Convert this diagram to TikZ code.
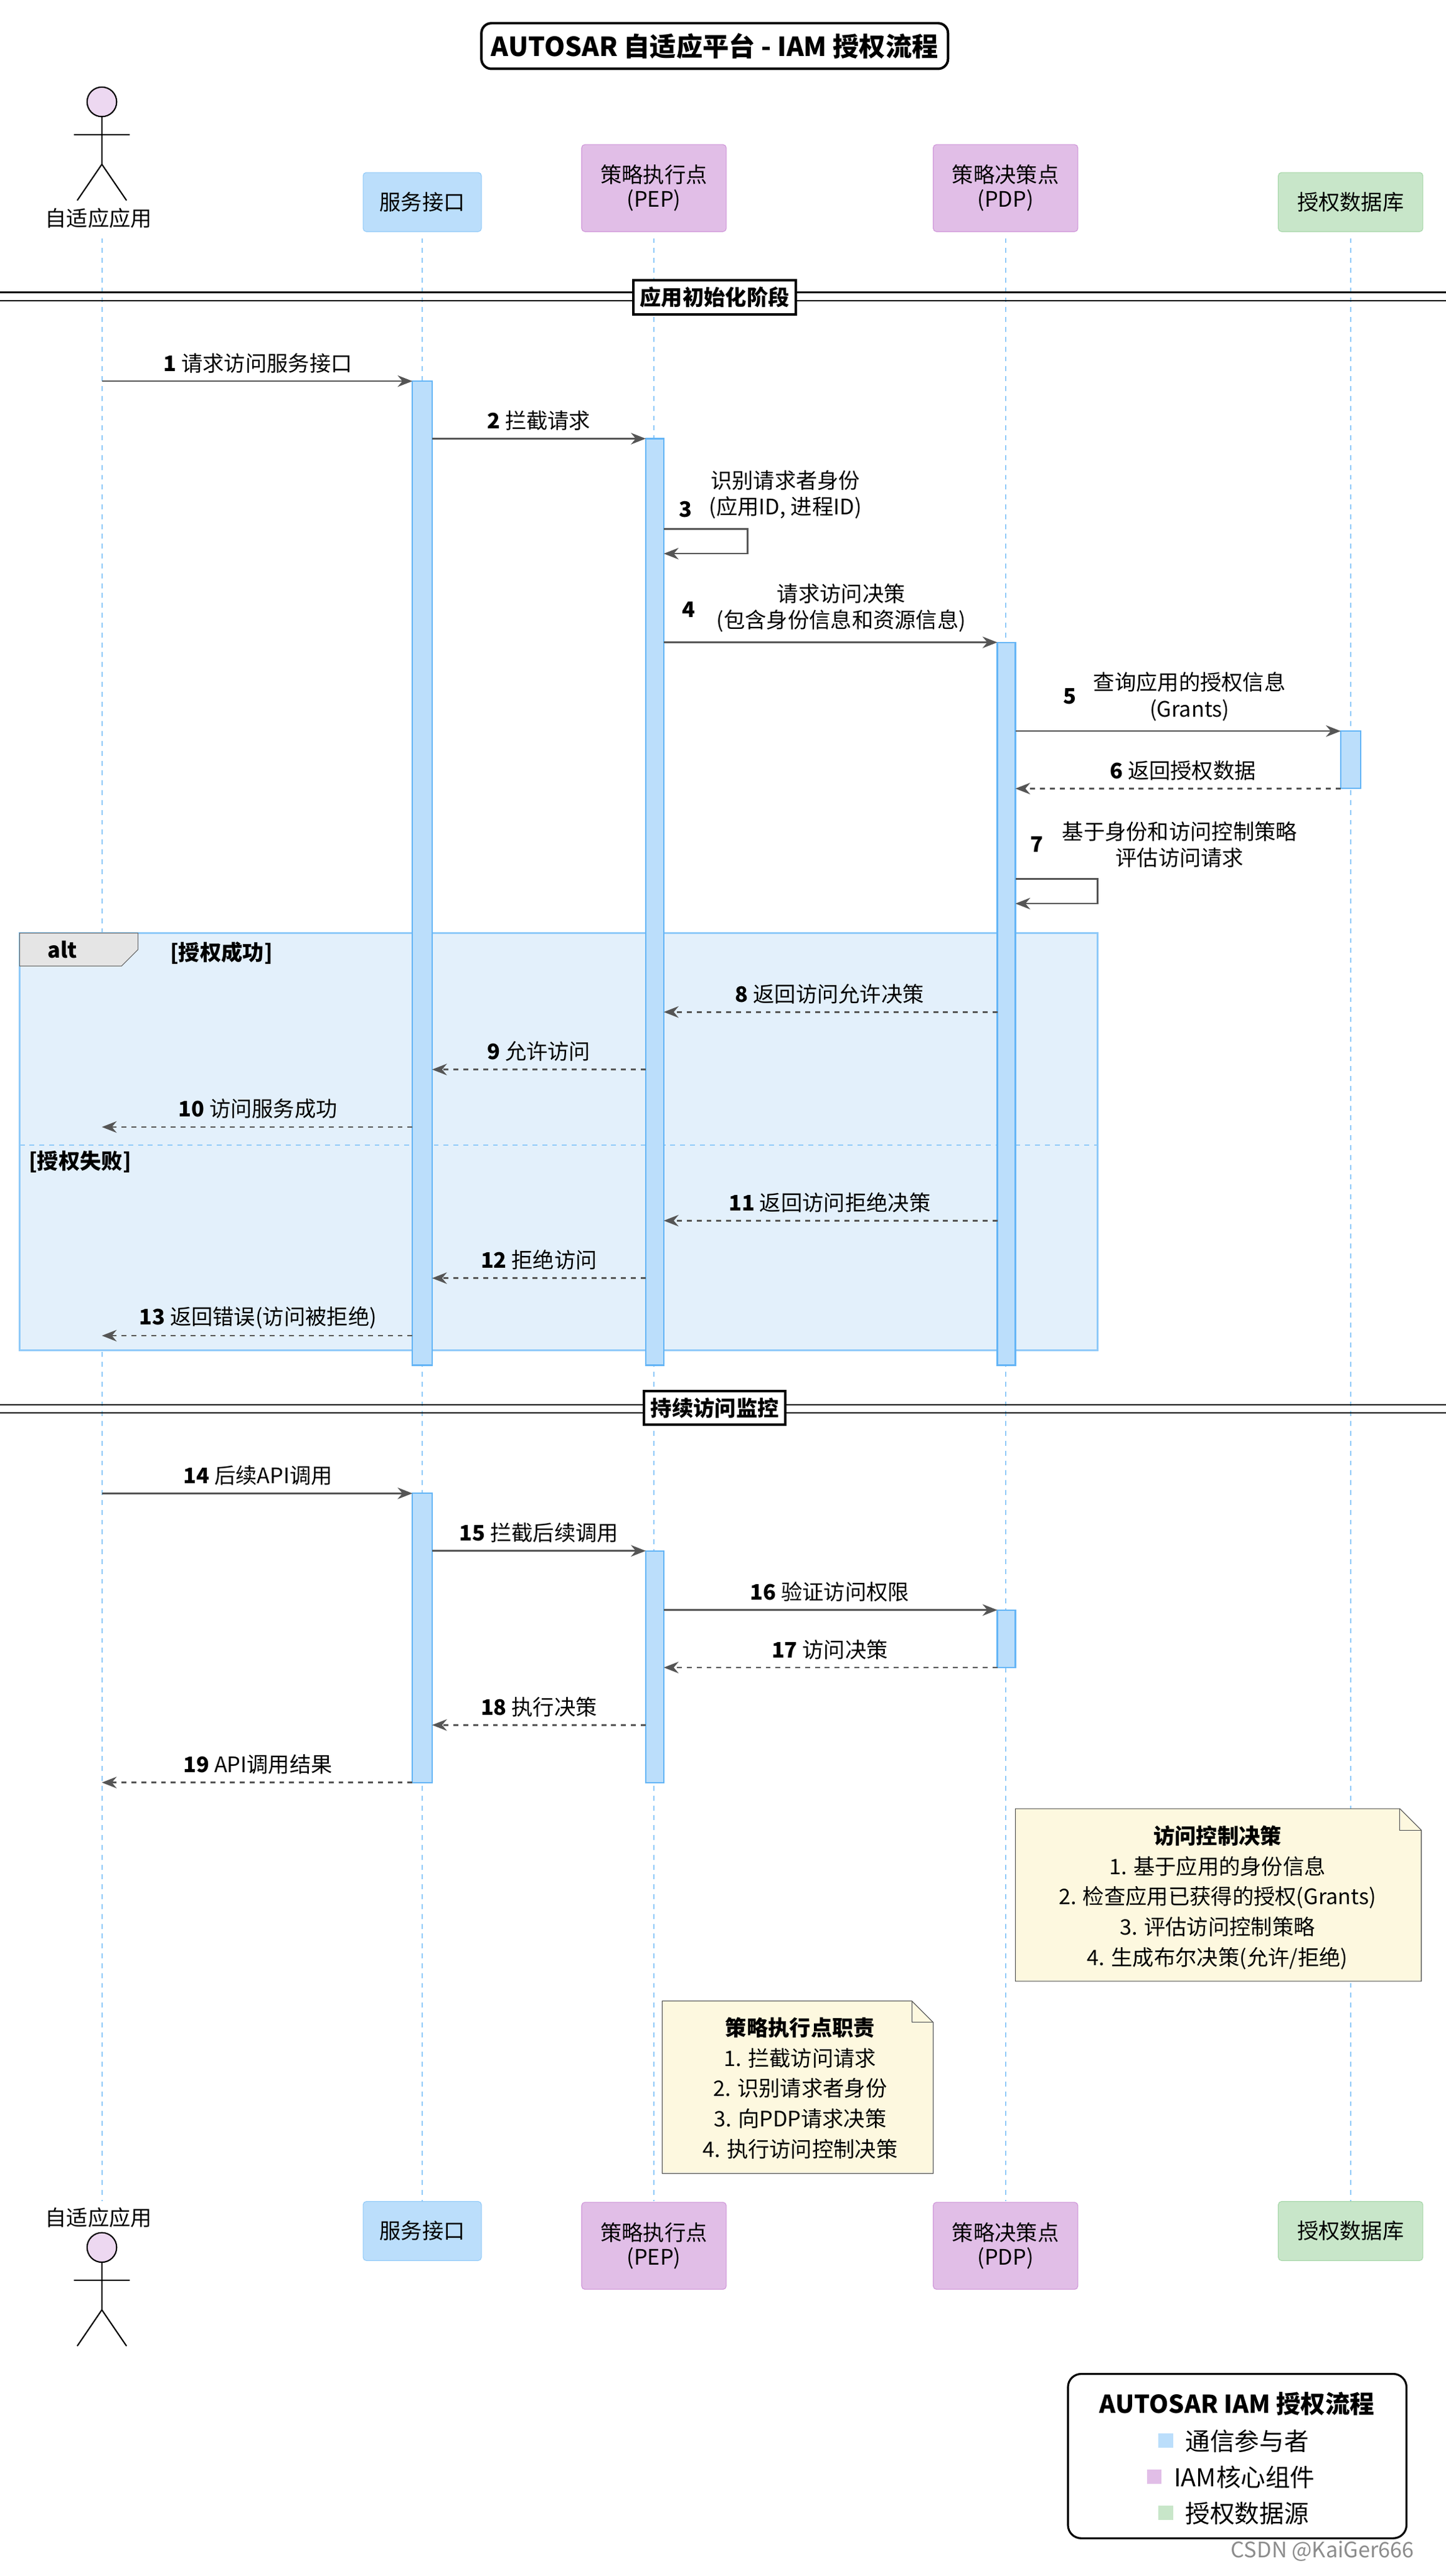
\documentclass[tikz,border=0pt]{standalone}
\usepackage{fontspec}
\setmainfont{Noto Sans CJK SC}
\usetikzlibrary{arrows.meta}
\definecolor{pb}{HTML}{BBDEFB}\definecolor{pbd}{HTML}{90CAF9}
\definecolor{pp}{HTML}{E1BEE7}\definecolor{ppd}{HTML}{CE93D8}
\definecolor{pg}{HTML}{C8E6C9}\definecolor{pgd}{HTML}{A5D6A7}
\definecolor{act}{HTML}{64B5F6}\definecolor{ar}{HTML}{555555}
\definecolor{altf}{HTML}{E3F0FB}\definecolor{notef}{HTML}{FDF8DF}
\tikzset{
 part/.style={draw=#1d,fill=#1,rounded corners=2pt,align=center,font=\fontsize{13}{15}\selectfont,inner sep=4pt},
 life/.style={draw=pbd,dashed,line width=0.8pt},
 actbar/.style={draw=act,fill=pb,line width=0.8pt},
 msg/.style={draw=ar,line width=1pt,-{Stealth[length=9pt,width=7pt]}},
 rmsg/.style={msg,dashed},
 lbl/.style={font=\fontsize{13}{16}\selectfont,align=center,inner sep=1pt},
 sect/.style={draw,line width=1.5pt,fill=white,font=\bfseries\fontsize{13}{15}\selectfont,inner sep=4pt},
 note/.style={font=\fontsize{13}{18.5}\selectfont,align=center}
}
\begin{document}
\begin{tikzpicture}[x=1pt,y=-1pt]
\useasboundingbox (0,0) rectangle (880,1568);
\fill[white] (0,0) rectangle (880,1568);
% lifelines
\foreach \x in {62,257,398,612,822} \draw[life] (\x,145) -- (\x,1340);
% title
\node[draw,line width=1.5pt,rounded corners=6pt,font=\bfseries\fontsize{16}{18}\selectfont,inner sep=6pt] (title) at (435,28) {AUTOSAR 自适应平台 - IAM 授权流程};
% participants top
\node[part=pb,minimum width=72pt,minimum height=36pt] (s1) at (257,123) {服务接口};
\node[part=pp,minimum width=88pt,minimum height=53pt] (p1) at (398,114.5) {策略执行点\\(PEP)};
\node[part=pp,minimum width=88pt,minimum height=53pt] (d1) at (612,114.5) {策略决策点\\(PDP)};
\node[part=pg,minimum width=88pt,minimum height=36pt] (g1) at (822,123) {授权数据库};
\node[part=pb,minimum width=72pt,minimum height=36pt] (s2) at (257,1358) {服务接口};
\node[part=pp,minimum width=88pt,minimum height=53pt] (p2) at (398,1367) {策略执行点\\(PEP)};
\node[part=pp,minimum width=88pt,minimum height=53pt] (d2) at (612,1367) {策略决策点\\(PDP)};
\node[part=pg,minimum width=88pt,minimum height=36pt] (g2) at (822,1358) {授权数据库};
% actors
\foreach \yh/\ly in {62/133,1368/1350}{
 \draw[fill=pp!60,draw=black,line width=0.8pt] (62,\yh) circle (9);
 \draw[line width=0.8pt] (62,\yh+9) -- (62,\yh+38) (45,\yh+20) -- (79,\yh+20)
   (62,\yh+38) -- (47,\yh+60) (62,\yh+38) -- (77,\yh+60);
 \node[lbl] at (60,\ly) {自适应应用};
}
% section 1
\draw[line width=1pt] (0,178) -- (880,178) (0,183) -- (880,183);
\node[sect] (sec1) at (435,181) {应用初始化阶段};
% alt box
\draw[fill=altf,draw=pbd,line width=1pt] (12,568) rectangle (668,822);
\draw[draw=pbd,dashed] (12,697) -- (668,697);
\draw[fill=white!90!black,draw=black!60] (12,568) -- (84,568) -- (84,578) -- (74,588) -- (12,588) -- cycle;
\node[font=\bfseries\fontsize{13}{15}\selectfont] at (38,578) {alt};
\node[font=\bfseries\fontsize{13}{15}\selectfont,anchor=west] at (100,580) {[授权成功]};
\node[font=\bfseries\fontsize{13}{15}\selectfont,anchor=west] at (14,707) {[授权失败]};
% activations
\draw[actbar] (251,232) rectangle (263,831);
\draw[actbar] (393,267) rectangle (404,831);
\draw[actbar] (607,391) rectangle (618,831);
\draw[actbar] (816,445) rectangle (828,480);
% messages
\draw[msg] (62,232) -- (251,232); \node[lbl] at (157,221) {\textbf{1} 请求访问服务接口};
\draw[msg] (263,267) -- (393,267); \node[lbl] at (328,256) {\textbf{2} 拦截请求};
\draw[msg] (404,322) -- (455,322) -- (455,337) -- (404,337);
\node[lbl,anchor=west] at (412,310) {\textbf{3}};
\node[lbl] at (478,301) {识别请求者身份\\(应用ID, 进程ID)};
\draw[msg] (404,391) -- (607,391); \node[lbl,anchor=west] at (414,371) {\textbf{4}};
\node[lbl] at (512,370) {请求访问决策\\(包含身份信息和资源信息)};
\draw[msg] (618,445) -- (816,445); \node[lbl,anchor=west] at (646,424) {\textbf{5}};
\node[lbl] at (724,424) {查询应用的授权信息\\(Grants)};
\draw[rmsg] (816,480) -- (618,480); \node[lbl] at (720,469) {\textbf{6} 返回授权数据};
\draw[msg] (618,535) -- (668,535) -- (668,550) -- (618,550);
\node[lbl,anchor=west] at (626,514) {\textbf{7}};
\node[lbl] at (718,514) {基于身份和访问控制策略\\评估访问请求};
\draw[rmsg] (607,616) -- (404,616); \node[lbl] at (505,605) {\textbf{8} 返回访问允许决策};
\draw[rmsg] (393,651) -- (263,651); \node[lbl] at (328,640) {\textbf{9} 允许访问};
\draw[rmsg] (251,686) -- (62,686); \node[lbl] at (157,675) {\textbf{10} 访问服务成功};
\draw[rmsg] (607,743) -- (404,743); \node[lbl] at (505,732) {\textbf{11} 返回访问拒绝决策};
\draw[rmsg] (393,778) -- (263,778); \node[lbl] at (328,767) {\textbf{12} 拒绝访问};
\draw[rmsg] (251,813) -- (62,813); \node[lbl] at (157,802) {\textbf{13} 返回错误(访问被拒绝)};
% section 2
\draw[line width=1pt] (0,855) -- (880,855) (0,860) -- (880,860);
\node[sect] (sec2) at (435,857) {持续访问监控};
\draw[actbar] (251,909) rectangle (263,1085);
\draw[actbar] (393,944) rectangle (404,1085);
\draw[actbar] (607,980) rectangle (618,1015);
\draw[msg] (62,909) -- (251,909); \node[lbl] at (157,898) {\textbf{14} 后续API调用};
\draw[msg] (263,944) -- (393,944); \node[lbl] at (328,933) {\textbf{15} 拦截后续调用};
\draw[msg] (404,980) -- (607,980); \node[lbl] at (505,969) {\textbf{16} 验证访问权限};
\draw[rmsg] (607,1015) -- (404,1015); \node[lbl] at (505,1004) {\textbf{17} 访问决策};
\draw[rmsg] (393,1050) -- (263,1050); \node[lbl] at (328,1039) {\textbf{18} 执行决策};
\draw[rmsg] (251,1085) -- (62,1085); \node[lbl] at (157,1074) {\textbf{19} API调用结果};
% notes
\draw[fill=notef,draw=black!70] (618,1101) -- (852,1101) -- (865,1114) -- (865,1206) -- (618,1206) -- cycle;
\draw[draw=black!70] (852,1101) -- (852,1114) -- (865,1114);
\node[note] (n1) at (741,1155) {\textbf{访问控制决策}\\1. 基于应用的身份信息\\2. 检查应用已获得的授权(Grants)\\3. 评估访问控制策略\\4. 生成布尔决策(允许/拒绝)};
\draw[fill=notef,draw=black!70] (403,1218) -- (555,1218) -- (568,1231) -- (568,1323) -- (403,1323) -- cycle;
\draw[draw=black!70] (555,1218) -- (555,1231) -- (568,1231);
\node[note] (n2) at (487,1271) {\textbf{策略执行点职责}\\1. 拦截访问请求\\2. 识别请求者身份\\3. 向PDP请求决策\\4. 执行访问控制决策};
% legend
\draw[line width=1.2pt,rounded corners=8pt,fill=white] (650,1445) rectangle (856,1545);
\node[font=\bfseries\fontsize{15}{17}\selectfont] (lg) at (753,1463) {AUTOSAR IAM 授权流程};
\fill[pb] (705,1481) rectangle (714,1490); \node[font=\fontsize{15}{17}\selectfont,anchor=west] at (718,1486) {通信参与者};
\fill[pp] (698,1503) rectangle (707,1512); \node[font=\fontsize{15}{17}\selectfont,anchor=west] at (711,1508) {IAM核心组件};
\fill[pg] (705,1525) rectangle (714,1534); \node[font=\fontsize{15}{17}\selectfont,anchor=west] at (718,1530) {授权数据源};
\node[text=black!45,font=\fontsize{13}{15}\selectfont] (wm) at (805,1553) {CSDN @KaiGer666};
\end{tikzpicture}
\end{document}
